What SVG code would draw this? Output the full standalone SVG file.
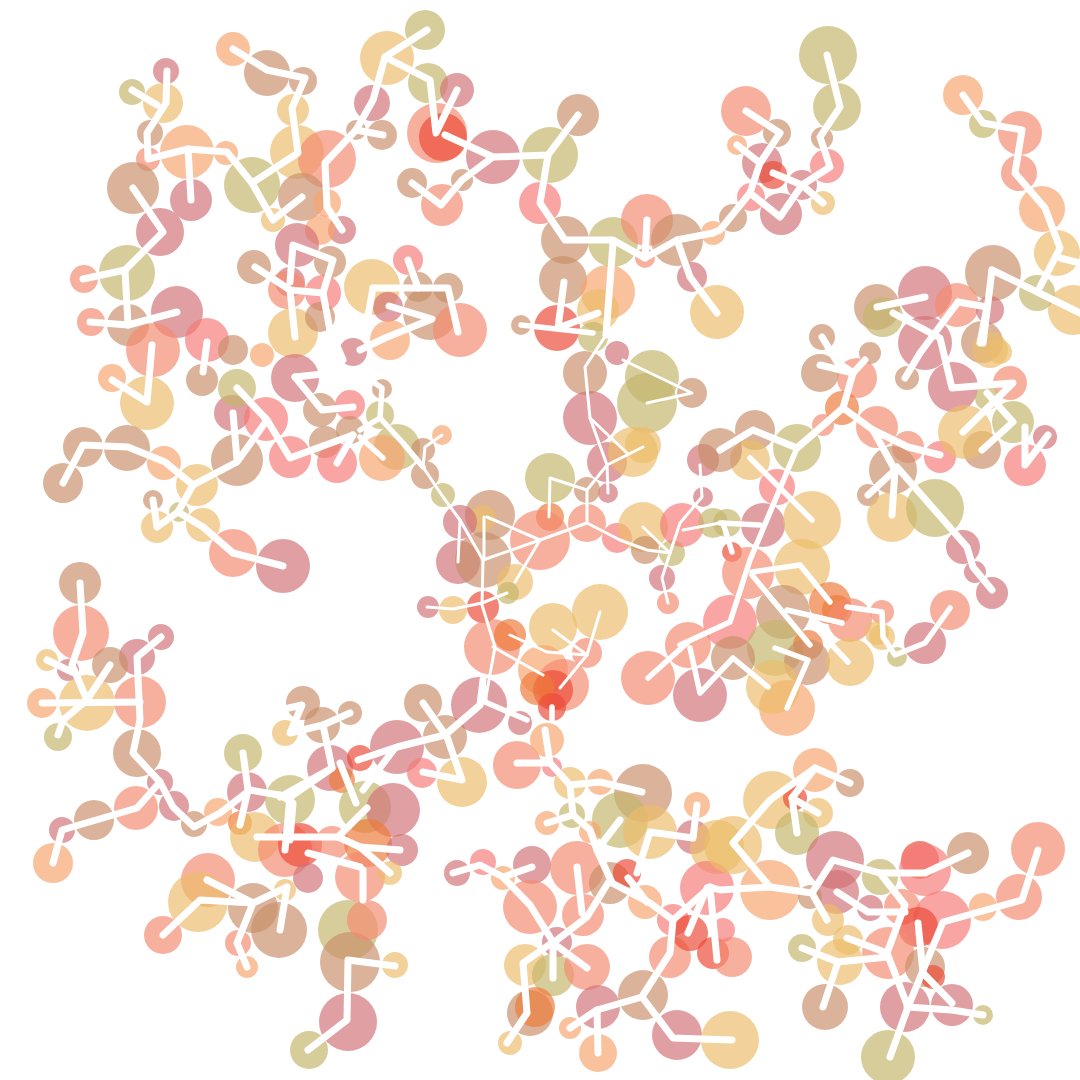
<svg xmlns="http://www.w3.org/2000/svg" width="1080" height="1080" viewBox="0 0 1080 1080">
<style>
circle{fill-opacity:0.68}
.s{fill:#F48A70}.r{fill:#D27276}.t{fill:#C98F6A}.o{fill:#C4B56C}.g{fill:#ECBC6A}.p{fill:#F7A36E}.k{fill:#F57A78}.d{fill:#EC4A36}.n{fill:#EE7A3A}
polyline{fill:none;stroke:#fff;stroke-linecap:round;stroke-linejoin:round}
.w7{stroke-width:7}.w5{stroke-width:5.5}.w3{stroke-width:3}
</style>
<rect width="1080" height="1080" fill="#fff"/>
<g id="circles">
<circle class="p" cx="233" cy="49" r="17"/><circle class="t" cx="267" cy="73" r="23"/><circle class="t" cx="303" cy="81" r="14"/><circle class="g" cx="293" cy="110" r="16"/><circle class="g" cx="163" cy="103" r="20"/><circle class="r" cx="166" cy="71" r="13"/><circle class="o" cx="132" cy="92" r="13"/><circle class="t" cx="150" cy="133" r="13"/><circle class="p" cx="187" cy="152" r="27"/><circle class="p" cx="226" cy="153" r="12"/><circle class="s" cx="148" cy="159" r="12"/><circle class="t" cx="133" cy="188" r="26"/><circle class="r" cx="191" cy="200" r="21"/><circle class="r" cx="160" cy="232" r="24"/><circle class="o" cx="252" cy="185" r="28"/><circle class="g" cx="297" cy="152" r="27"/><circle class="s" cx="327" cy="159" r="29"/><circle class="t" cx="302" cy="197" r="24"/><circle class="p" cx="327" cy="203" r="14"/><circle class="r" cx="342" cy="230" r="14"/><circle class="g" cx="273" cy="220" r="12"/><circle class="p" cx="320" cy="230" r="15"/><circle class="r" cx="297" cy="245" r="22"/><circle class="t" cx="254" cy="267" r="17"/><circle class="t" cx="330" cy="262" r="16"/><circle class="r" cx="290" cy="282" r="15"/><circle class="s" cx="287" cy="290" r="19"/><circle class="k" cx="323" cy="293" r="18"/><circle class="o" cx="127" cy="273" r="28"/><circle class="s" cx="84" cy="279" r="14"/><circle class="s" cx="91" cy="322" r="14"/><circle class="t" cx="128" cy="325" r="21"/><circle class="r" cx="177" cy="312" r="26"/><circle class="k" cx="207" cy="340" r="22"/><circle class="s" cx="153" cy="350" r="27"/><circle class="g" cx="293" cy="333" r="25"/><circle class="t" cx="320" cy="317" r="15"/><circle class="g" cx="372" cy="287" r="28"/><circle class="r" cx="372" cy="103" r="18"/><circle class="t" cx="356" cy="130" r="10"/><circle class="r" cx="353" cy="352" r="14"/><circle class="p" cx="262" cy="355" r="12"/><circle class="t" cx="233" cy="350" r="15"/>
<circle class="o" cx="425" cy="30" r="20"/><circle class="g" cx="387" cy="58" r="27"/><circle class="o" cx="428" cy="83" r="20"/><circle class="r" cx="457" cy="90" r="17"/><circle class="t" cx="382" cy="135" r="15"/><circle class="s" cx="437" cy="133" r="30"/><circle class="d" cx="443" cy="137" r="24"/><circle class="r" cx="493" cy="157" r="27"/><circle class="o" cx="550" cy="155" r="28"/><circle class="t" cx="578" cy="115" r="21"/><circle class="t" cx="412" cy="183" r="15"/><circle class="t" cx="462" cy="180" r="11"/><circle class="s" cx="442" cy="205" r="21"/><circle class="k" cx="540" cy="203" r="21"/><circle class="t" cx="565" cy="240" r="24"/><circle class="o" cx="613" cy="242" r="25"/><circle class="s" cx="647" cy="220" r="26"/><circle class="t" cx="677" cy="240" r="26"/><circle class="s" cx="645" cy="258" r="10"/><circle class="p" cx="713" cy="233" r="12"/><circle class="r" cx="692" cy="277" r="15"/><circle class="g" cx="717" cy="312" r="27"/><circle class="t" cx="563" cy="280" r="24"/><circle class="p" cx="608" cy="292" r="27"/><circle class="g" cx="598" cy="310" r="21"/><circle class="d" cx="557" cy="328" r="23"/><circle class="t" cx="521" cy="325" r="10"/><circle class="o" cx="593" cy="337" r="15"/><circle class="k" cx="408" cy="260" r="15"/><circle class="t" cx="418" cy="287" r="15"/><circle class="t" cx="448" cy="288" r="15"/><circle class="r" cx="388" cy="307" r="15"/><circle class="t" cx="430" cy="313" r="27"/><circle class="s" cx="460" cy="330" r="27"/><circle class="p" cx="390" cy="340" r="20"/><circle class="r" cx="617" cy="353" r="12"/>
<circle class="o" cx="828" cy="55" r="29"/><circle class="o" cx="837" cy="107" r="24"/><circle class="t" cx="822" cy="138" r="11"/><circle class="k" cx="827" cy="166" r="17"/><circle class="s" cx="746" cy="111" r="25"/><circle class="t" cx="777" cy="133" r="14"/><circle class="p" cx="737" cy="145" r="10"/><circle class="r" cx="762" cy="163" r="20"/><circle class="d" cx="773" cy="175" r="14"/><circle class="r" cx="802" cy="185" r="15"/><circle class="k" cx="751" cy="197" r="14"/><circle class="r" cx="781" cy="214" r="21"/><circle class="g" cx="823" cy="203" r="12"/><circle class="t" cx="733" cy="218" r="14"/><circle class="p" cx="963" cy="95" r="20"/><circle class="o" cx="983" cy="124" r="14"/><circle class="s" cx="1020" cy="133" r="22"/><circle class="s" cx="1019" cy="173" r="18"/><circle class="p" cx="1042" cy="209" r="23"/><circle class="g" cx="1057" cy="253" r="23"/><circle class="g" cx="1073" cy="310" r="25"/><circle class="t" cx="993" cy="273" r="28"/><circle class="o" cx="1037" cy="293" r="18"/><circle class="r" cx="925" cy="293" r="27"/><circle class="s" cx="957" cy="305" r="22"/><circle class="t" cx="877" cy="307" r="23"/><circle class="o" cx="883" cy="317" r="20"/><circle class="r" cx="925" cy="343" r="27"/><circle class="t" cx="982" cy="342" r="21"/><circle class="g" cx="990" cy="350" r="18"/><circle class="r" cx="990" cy="310" r="14"/><circle class="t" cx="822" cy="337" r="13"/><circle class="t" cx="870" cy="353" r="11"/><circle class="g" cx="1000" cy="352" r="12"/>
<circle class="p" cx="112" cy="378" r="14"/><circle class="g" cx="147" cy="403" r="27"/><circle class="t" cx="83" cy="447" r="20"/><circle class="t" cx="63" cy="483" r="20"/><circle class="t" cx="127" cy="448" r="23"/><circle class="p" cx="164" cy="463" r="17"/><circle class="g" cx="197" cy="485" r="21"/><circle class="t" cx="153" cy="500" r="10"/><circle class="o" cx="179" cy="512" r="10"/><circle class="g" cx="157" cy="527" r="16"/><circle class="g" cx="203" cy="525" r="17"/><circle class="s" cx="233" cy="553" r="24"/><circle class="r" cx="283" cy="566" r="27"/><circle class="t" cx="237" cy="460" r="26"/><circle class="r" cx="232" cy="413" r="18"/><circle class="k" cx="266" cy="419" r="22"/><circle class="o" cx="237" cy="388" r="19"/><circle class="t" cx="202" cy="380" r="16"/><circle class="k" cx="290" cy="457" r="21"/><circle class="r" cx="295" cy="378" r="24"/><circle class="t" cx="320" cy="410" r="17"/><circle class="k" cx="350" cy="405" r="15"/><circle class="t" cx="325" cy="442" r="16"/><circle class="k" cx="337" cy="463" r="20"/><circle class="t" cx="350" cy="430" r="14"/><circle class="t" cx="80" cy="583" r="21"/><circle class="s" cx="81" cy="633" r="28"/><circle class="r" cx="161" cy="637" r="13"/><circle class="r" cx="137" cy="657" r="18"/><circle class="t" cx="110" cy="665" r="18"/><circle class="g" cx="47" cy="660" r="11"/><circle class="r" cx="68" cy="670" r="11"/><circle class="s" cx="140" cy="702" r="26"/><circle class="g" cx="87" cy="703" r="28"/><circle class="p" cx="42" cy="703" r="15"/>
<circle class="o" cx="58" cy="737" r="14"/><circle class="t" cx="137" cy="753" r="24"/><circle class="r" cx="160" cy="782" r="13"/><circle class="s" cx="136" cy="808" r="22"/><circle class="t" cx="94" cy="820" r="20"/><circle class="r" cx="62" cy="830" r="13"/><circle class="p" cx="53" cy="863" r="20"/><circle class="r" cx="174" cy="806" r="15"/><circle class="t" cx="194" cy="824" r="13"/><circle class="p" cx="218" cy="812" r="14"/><circle class="o" cx="243" cy="753" r="19"/><circle class="r" cx="247" cy="792" r="20"/><circle class="n" cx="240" cy="823" r="12"/><circle class="g" cx="255" cy="837" r="25"/><circle class="o" cx="290" cy="800" r="25"/><circle class="t" cx="303" cy="703" r="17"/><circle class="t" cx="350" cy="713" r="12"/><circle class="t" cx="322" cy="725" r="18"/><circle class="g" cx="285" cy="733" r="13"/><circle class="r" cx="330" cy="768" r="23"/><circle class="n" cx="342" cy="780" r="13"/><circle class="d" cx="360" cy="758" r="13"/><circle class="o" cx="365" cy="807" r="26"/><circle class="r" cx="393" cy="810" r="27"/><circle class="s" cx="285" cy="850" r="27"/><circle class="d" cx="300" cy="845" r="22"/><circle class="s" cx="332" cy="843" r="17"/><circle class="r" cx="308" cy="878" r="15"/><circle class="n" cx="368" cy="843" r="24"/><circle class="s" cx="208" cy="880" r="27"/><circle class="g" cx="198" cy="902" r="30"/><circle class="s" cx="163" cy="935" r="19"/><circle class="t" cx="253" cy="908" r="25"/><circle class="t" cx="279" cy="930" r="28"/><circle class="g" cx="285" cy="890" r="11"/><circle class="s" cx="238" cy="943" r="13"/><circle class="p" cx="247" cy="967" r="11"/><circle class="o" cx="348" cy="930" r="30"/><circle class="t" cx="350" cy="962" r="30"/><circle class="r" cx="348" cy="1022" r="29"/><circle class="o" cx="309" cy="1050" r="19"/><circle class="s" cx="360" cy="877" r="25"/><circle class="g" cx="395" cy="965" r="13"/>
<circle class="r" cx="397" cy="747" r="27"/><circle class="t" cx="445" cy="737" r="22"/><circle class="t" cx="423" cy="703" r="19"/><circle class="r" cx="479" cy="705" r="28"/><circle class="g" cx="462" cy="782" r="25"/><circle class="k" cx="422" cy="773" r="15"/><circle class="s" cx="517" cy="765" r="24"/><circle class="p" cx="547" cy="740" r="17"/><circle class="r" cx="520" cy="723" r="12"/><circle class="k" cx="552" cy="767" r="10"/><circle class="g" cx="570" cy="783" r="16"/><circle class="p" cx="600" cy="782" r="13"/><circle class="t" cx="643" cy="793" r="29"/><circle class="o" cx="620" cy="820" r="28"/><circle class="g" cx="650" cy="832" r="27"/><circle class="o" cx="572" cy="815" r="13"/><circle class="p" cx="547" cy="823" r="12"/><circle class="p" cx="590" cy="832" r="11"/><circle class="p" cx="697" cy="805" r="13"/><circle class="r" cx="693" cy="837" r="17"/><circle class="g" cx="717" cy="847" r="27"/><circle class="r" cx="402" cy="850" r="16"/><circle class="g" cx="390" cy="873" r="12"/><circle class="s" cx="367" cy="920" r="20"/><circle class="r" cx="457" cy="873" r="13"/><circle class="k" cx="483" cy="862" r="13"/><circle class="p" cx="503" cy="878" r="12"/><circle class="r" cx="532" cy="865" r="19"/><circle class="s" cx="530" cy="907" r="27"/><circle class="s" cx="577" cy="868" r="27"/><circle class="t" cx="610" cy="883" r="21"/><circle class="d" cx="627" cy="873" r="14"/><circle class="s" cx="583" cy="915" r="21"/><circle class="r" cx="557" cy="942" r="15"/><circle class="g" cx="525" cy="965" r="21"/><circle class="o" cx="553" cy="975" r="21"/><circle class="s" cx="587" cy="967" r="23"/><circle class="t" cx="530" cy="1013" r="23"/><circle class="n" cx="535" cy="1007" r="20"/><circle class="g" cx="510" cy="1043" r="12"/><circle class="p" cx="645" cy="902" r="17"/><circle class="r" cx="598" cy="1007" r="22"/><circle class="p" cx="570" cy="1028" r="11"/><circle class="p" cx="598" cy="1053" r="19"/><circle class="t" cx="643" cy="995" r="25"/><circle class="r" cx="677" cy="1035" r="25"/><circle class="s" cx="670" cy="957" r="21"/><circle class="k" cx="673" cy="920" r="16"/><circle class="k" cx="707" cy="888" r="27"/><circle class="d" cx="690" cy="933" r="18"/><circle class="d" cx="713" cy="953" r="16"/>
<circle class="p" cx="787" cy="708" r="28"/><circle class="p" cx="815" cy="770" r="22"/><circle class="t" cx="850" cy="783" r="14"/><circle class="g" cx="772" cy="800" r="29"/><circle class="d" cx="795" cy="798" r="12"/><circle class="g" cx="818" cy="813" r="15"/><circle class="o" cx="797" cy="833" r="22"/><circle class="g" cx="733" cy="845" r="29"/><circle class="p" cx="770" cy="890" r="30"/><circle class="r" cx="835" cy="860" r="29"/><circle class="o" cx="880" cy="877" r="18"/><circle class="d" cx="920" cy="860" r="19"/><circle class="k" cx="925" cy="870" r="26"/><circle class="t" cx="968" cy="853" r="21"/><circle class="r" cx="837" cy="892" r="22"/><circle class="t" cx="810" cy="897" r="12"/><circle class="r" cx="870" cy="908" r="13"/><circle class="s" cx="902" cy="907" r="18"/><circle class="k" cx="942" cy="920" r="29"/><circle class="d" cx="918" cy="927" r="20"/><circle class="p" cx="983" cy="907" r="14"/><circle class="s" cx="1019" cy="897" r="23"/><circle class="s" cx="1038" cy="849" r="27"/><circle class="g" cx="828" cy="920" r="16"/><circle class="g" cx="848" cy="940" r="15"/><circle class="o" cx="802" cy="948" r="14"/><circle class="g" cx="840" cy="962" r="23"/><circle class="s" cx="888" cy="953" r="26"/><circle class="t" cx="925" cy="967" r="20"/><circle class="d" cx="933" cy="977" r="12"/><circle class="r" cx="905" cy="1007" r="25"/><circle class="r" cx="952" cy="1005" r="21"/><circle class="o" cx="983" cy="1015" r="10"/><circle class="t" cx="825" cy="1007" r="23"/><circle class="o" cx="888" cy="1057" r="27"/><circle class="g" cx="730" cy="1040" r="29"/><circle class="s" cx="732" cy="957" r="20"/><circle class="k" cx="723" cy="930" r="12"/>
<circle class="t" cx="585" cy="373" r="22"/><circle class="o" cx="652" cy="377" r="27"/><circle class="o" cx="647" cy="403" r="30"/><circle class="t" cx="692" cy="393" r="15"/><circle class="r" cx="590" cy="418" r="27"/><circle class="r" cx="607" cy="462" r="20"/><circle class="g" cx="633" cy="452" r="25"/><circle class="g" cx="643" cy="445" r="18"/><circle class="r" cx="608" cy="493" r="10"/><circle class="t" cx="587" cy="490" r="13"/><circle class="o" cx="550" cy="478" r="25"/><circle class="n" cx="550" cy="517" r="14"/><circle class="s" cx="587" cy="523" r="19"/><circle class="s" cx="540" cy="540" r="30"/><circle class="t" cx="490" cy="515" r="25"/><circle class="g" cx="483" cy="518" r="13"/><circle class="r" cx="460" cy="522" r="17"/><circle class="r" cx="458" cy="562" r="22"/><circle class="t" cx="483" cy="560" r="28"/><circle class="g" cx="515" cy="582" r="18"/><circle class="o" cx="508" cy="593" r="11"/><circle class="d" cx="483" cy="607" r="16"/><circle class="r" cx="428" cy="607" r="11"/><circle class="g" cx="453" cy="610" r="14"/><circle class="o" cx="397" cy="447" r="23"/><circle class="p" cx="382" cy="458" r="23"/><circle class="p" cx="442" cy="435" r="10"/><circle class="t" cx="423" cy="450" r="12"/><circle class="t" cx="425" cy="475" r="14"/><circle class="o" cx="443" cy="495" r="12"/><circle class="o" cx="380" cy="415" r="14"/><circle class="t" cx="382" cy="389" r="10"/><circle class="k" cx="617" cy="538" r="15"/><circle class="g" cx="643" cy="527" r="25"/><circle class="t" cx="645" cy="550" r="14"/><circle class="o" cx="672" cy="553" r="13"/><circle class="k" cx="682" cy="525" r="22"/><circle class="o" cx="713" cy="523" r="15"/><circle class="r" cx="703" cy="497" r="10"/><circle class="r" cx="703" cy="460" r="16"/><circle class="r" cx="662" cy="578" r="13"/><circle class="s" cx="668" cy="603" r="11"/><circle class="g" cx="600" cy="612" r="28"/><circle class="g" cx="553" cy="627" r="24"/><circle class="s" cx="587" cy="653" r="15"/><circle class="s" cx="492" cy="647" r="28"/><circle class="n" cx="510" cy="635" r="16"/><circle class="p" cx="543" cy="670" r="25"/><circle class="s" cx="563" cy="685" r="26"/><circle class="d" cx="553" cy="690" r="20"/><circle class="n" cx="537" cy="688" r="17"/><circle class="d" cx="552" cy="707" r="14"/><circle class="s" cx="688" cy="645" r="23"/><circle class="s" cx="648" cy="678" r="27"/><circle class="r" cx="700" cy="695" r="27"/>
<circle class="t" cx="820" cy="373" r="19"/><circle class="s" cx="857" cy="378" r="20"/><circle class="n" cx="842" cy="408" r="17"/><circle class="s" cx="823" cy="425" r="11"/><circle class="s" cx="877" cy="427" r="21"/><circle class="s" cx="908" cy="447" r="16"/><circle class="k" cx="940" cy="457" r="16"/><circle class="t" cx="893" cy="470" r="24"/><circle class="t" cx="868" cy="495" r="11"/><circle class="g" cx="892" cy="517" r="25"/><circle class="o" cx="935" cy="508" r="29"/><circle class="r" cx="963" cy="547" r="17"/><circle class="r" cx="975" cy="572" r="11"/><circle class="r" cx="992" cy="593" r="16"/><circle class="s" cx="950" cy="610" r="20"/><circle class="r" cx="925" cy="643" r="21"/><circle class="o" cx="897" cy="657" r="10"/><circle class="g" cx="882" cy="637" r="13"/><circle class="s" cx="882" cy="612" r="12"/><circle class="r" cx="953" cy="387" r="25"/><circle class="s" cx="1010" cy="383" r="17"/><circle class="o" cx="987" cy="398" r="12"/><circle class="o" cx="1013" cy="422" r="21"/><circle class="r" cx="1045" cy="437" r="12"/><circle class="k" cx="1025" cy="465" r="21"/><circle class="t" cx="982" cy="450" r="19"/><circle class="g" cx="965" cy="432" r="27"/><circle class="t" cx="907" cy="378" r="12"/><circle class="t" cx="755" cy="430" r="20"/><circle class="o" cx="797" cy="448" r="24"/><circle class="g" cx="750" cy="460" r="20"/><circle class="t" cx="720" cy="450" r="22"/><circle class="k" cx="777" cy="487" r="18"/><circle class="r" cx="763" cy="525" r="22"/><circle class="g" cx="812" cy="520" r="29"/><circle class="o" cx="727" cy="523" r="14"/><circle class="d" cx="732" cy="552" r="10"/><circle class="s" cx="748" cy="573" r="26"/><circle class="g" cx="802" cy="567" r="28"/><circle class="k" cx="730" cy="622" r="27"/><circle class="t" cx="783" cy="612" r="27"/><circle class="n" cx="830" cy="603" r="21"/><circle class="n" cx="837" cy="610" r="15"/><circle class="s" cx="850" cy="620" r="22"/><circle class="o" cx="775" cy="648" r="28"/><circle class="n" cx="808" cy="645" r="15"/><circle class="t" cx="807" cy="662" r="23"/><circle class="g" cx="850" cy="662" r="24"/><circle class="t" cx="733" cy="658" r="22"/><circle class="g" cx="773" cy="687" r="27"/><circle class="g" cx="877" cy="633" r="12"/>
</g>
<g id="connectors">
<polyline class="w7" points="233,49 267,70 305,78 292,108 298,153 252,183 273,220 302,197"/>
<polyline class="w7" points="252,183 227,152 188,149 148,159 147,133 166,103 167,71"/>
<polyline class="w7" points="188,149 191,200"/>
<polyline class="w7" points="157,105 132,90"/>
<polyline class="w7" points="133,188 163,232 125,270 83,279"/>
<polyline class="w7" points="125,270 128,325 177,312"/>
<polyline class="w7" points="128,325 90,322"/>
<polyline class="w7" points="342,230 327,207 325,163 356,130 373,100 385,57 427,30"/>
<polyline class="w7" points="356,130 383,135"/>
<polyline class="w7" points="385,57 430,80 436,133 457,90"/>
<polyline class="w7" points="255,267 290,290 323,293 333,260 293,245 290,282"/>
<polyline class="w7" points="290,290 295,337"/>
<polyline class="w7" points="323,293 330,330 357,323"/>
<polyline class="w7" points="330,330 343,360"/>
<polyline class="w7" points="152,345 147,402 112,380"/>
<polyline class="w7" points="207,342 203,372"/>
<polyline class="w7" points="63,483 83,445 128,447 165,462 193,485 237,462 267,420 290,458 353,435"/>
<polyline class="w7" points="267,420 237,388"/>
<polyline class="w7" points="233,413 237,460"/>
<polyline class="w7" points="193,485 178,512 157,527 153,500"/>
<polyline class="w7" points="178,512 203,527 233,553 283,566"/>
<polyline class="w7" points="295,377 322,410 353,407"/>
<polyline class="w7" points="295,377 360,370"/>
<polyline class="w7" points="353,435 337,463"/>
<polyline class="w7" points="80,583 83,633 72,665 87,700 110,665"/>
<polyline class="w7" points="47,660 72,672"/>
<polyline class="w7" points="161,637 137,657 140,720 133,753 160,782 137,808 62,830 53,863"/>
<polyline class="w7" points="42,703 140,702"/>
<polyline class="w7" points="87,700 63,720 58,735"/>
<polyline class="w7" points="160,782 173,807 194,827 220,813 250,790 290,797 332,768 323,725 350,713"/>
<polyline class="w7" points="280,710 302,705 290,733 323,725"/>
<polyline class="w7" points="332,768 280,797"/>
<polyline class="w7" points="340,763 356,803"/>
<polyline class="w7" points="280,795 293,803 290,840"/>
<polyline class="w7" points="243,753 248,790 240,825"/>
<polyline class="w7" points="290,797 285,850"/>
<polyline class="w7" points="257,837 338,837"/>
<polyline class="w7" points="367,808 338,837 360,847 390,873"/>
<polyline class="w7" points="360,847 400,850"/>
<polyline class="w7" points="308,853 360,867"/>
<polyline class="w7" points="363,870 363,900"/>
<polyline class="w7" points="163,935 200,900 253,903 287,887 280,930"/>
<polyline class="w7" points="207,880 253,903 237,943 247,967"/>
<polyline class="w7" points="308,1050 347,1020 348,960 395,966"/>
<polyline class="w7" points="358,760 397,747 445,735 480,705 483,680"/>
<polyline class="w7" points="395,748 363,790"/>
<polyline class="w7" points="423,703 447,737 462,780 423,772"/>
<polyline class="w7" points="517,763 550,763 545,730"/>
<polyline class="w7" points="550,763 570,785 600,782 642,792"/>
<polyline class="w7" points="570,785 573,815 547,823"/>
<polyline class="w7" points="573,815 590,830 597,850 620,820"/>
<polyline class="w7" points="597,850 612,883 650,903 673,920 710,887 720,890 770,887 733,843 770,800 815,768 850,783"/>
<polyline class="w7" points="608,883 587,917 553,943 587,968"/>
<polyline class="w7" points="577,867 582,913"/>
<polyline class="w7" points="453,873 480,865 503,877 532,867"/>
<polyline class="w7" points="503,877 530,905 553,942 553,978"/>
<polyline class="w7" points="553,942 523,963 527,1013 507,1043"/>
<polyline class="w7" points="628,878 647,902"/>
<polyline class="w7" points="697,805 693,838 650,832 637,873"/>
<polyline class="w7" points="570,1028 597,1010 642,997 673,1038 732,1040"/>
<polyline class="w7" points="597,1010 598,1053"/>
<polyline class="w7" points="673,920 670,953 643,995"/>
<polyline class="w7" points="707,888 688,933"/>
<polyline class="w7" points="710,887 717,960"/>
<polyline class="w7" points="815,768 792,798 797,833"/>
<polyline class="w7" points="792,798 818,813"/>
<polyline class="w7" points="770,887 812,893 827,920"/>
<polyline class="w7" points="812,893 833,860 880,873 925,873 968,853"/>
<polyline class="w7" points="880,873 905,905 887,953 908,1007 890,1057"/>
<polyline class="w7" points="837,892 868,912 905,912"/>
<polyline class="w7" points="847,938 887,953"/>
<polyline class="w7" points="802,948 838,962 887,957"/>
<polyline class="w7" points="838,962 823,1007"/>
<polyline class="w7" points="907,1007 952,1010 983,1015"/>
<polyline class="w7" points="908,1007 943,922 1022,900 1038,850"/>
<polyline class="w7" points="918,923 923,973 952,1003"/>
<polyline class="w7" points="827,55 840,107 820,137 830,167 802,185 780,217 750,193 720,230 713,233"/>
<polyline class="w7" points="746,111 780,133 760,163 750,193"/>
<polyline class="w7" points="737,145 760,163"/>
<polyline class="w7" points="773,173 802,185 823,203"/>
<polyline class="w7" points="963,95 983,123 1022,130 1015,173 1045,208 1060,248 1040,287"/>
<polyline class="w7" points="1060,258 1080,263"/>
<polyline class="w7" points="992,270 1080,313"/>
<polyline class="w7" points="992,270 983,343"/>
<polyline class="w7" points="877,307 925,297"/>
<polyline class="w7" points="893,313 940,338 952,388 1013,383 963,432"/>
<polyline class="w7" points="958,302 987,307 980,343"/>
<polyline class="w7" points="958,302 920,353 905,378"/>
<polyline class="w7" points="822,337 837,362 853,373"/>
<polyline class="w7" points="445,135 493,157 548,155 578,115"/>
<polyline class="w7" points="493,157 462,180 441,205 412,183"/>
<polyline class="w7" points="548,155 540,203 565,240 613,240 645,258 677,240 713,233"/>
<polyline class="w7" points="613,243 606,335"/>
<polyline class="w7" points="647,220 645,258"/>
<polyline class="w7" points="677,240 690,277 717,313"/>
<polyline class="w7" points="564,282 558,328 598,313"/>
<polyline class="w5" points="521,325 593,333"/>
<polyline class="w7" points="408,260 418,288"/>
<polyline class="w7" points="373,288 448,288 458,332"/>
<polyline class="w7" points="389,306 432,319 385,338 360,350"/>
<polyline class="w7" points="373,288 365,333"/>
<polyline class="w7" points="820,365 853,373 865,360"/>
<polyline class="w7" points="853,373 843,408 873,430 908,447 940,455"/>
<polyline class="w7" points="843,408 827,422 797,448 753,430 720,450"/>
<polyline class="w7" points="873,430 895,470 892,515"/>
<polyline class="w7" points="895,470 868,495"/>
<polyline class="w7" points="897,467 932,507 967,547 973,567 992,590"/>
<polyline class="w7" points="987,393 1013,422 982,450"/>
<polyline class="w7" points="1025,427 1025,465 1048,435"/>
<polyline class="w5" points="797,448 750,560 730,622 680,645"/>
<polyline class="w5" points="750,458 812,520"/>
<polyline class="w5" points="720,523 760,525"/>
<polyline class="w5" points="723,523 732,552"/>
<polyline class="w5" points="752,572 800,565 830,602"/>
<polyline class="w5" points="752,575 810,645"/>
<polyline class="w5" points="787,610 842,623"/>
<polyline class="w5" points="847,607 882,612 883,637 895,655 925,643 950,608"/>
<polyline class="w5" points="820,632 848,662"/>
<polyline class="w5" points="775,648 808,660 787,708"/>
<polyline class="w5" points="690,648 700,693 733,658 768,687"/>
<polyline class="w5" points="648,678 687,643"/>
<polyline class="w5" points="360,373 382,388 380,418 360,430"/>
<polyline class="w5" points="380,418 403,443 423,467"/>
<polyline class="w3" points="423,467 443,497 460,520 483,560 482,605 495,647 485,702"/>
<polyline class="w5" points="383,458 360,437"/>
<polyline class="w3" points="423,467 425,447 442,435"/>
<polyline class="w3" points="460,520 458,562"/>
<polyline class="w3" points="484,517 484,560"/>
<polyline class="w3" points="487,517 540,540 483,560"/>
<polyline class="w3" points="540,540 515,582"/>
<polyline class="w3" points="540,540 587,523 587,490 550,478 549,517"/>
<polyline class="w3" points="587,490 607,465 643,447"/>
<polyline class="w3" points="607,465 608,493"/>
<polyline class="w3" points="607,465 590,418 585,367 606,335"/>
<polyline class="w3" points="590,418 627,453"/>
<polyline class="w3" points="647,403 692,393 623,360"/>
<polyline class="w3" points="587,523 620,540 647,550 670,553 662,578 668,603"/>
<polyline class="w3" points="670,553 643,527"/>
<polyline class="w3" points="670,553 680,523 702,497 700,465"/>
<polyline class="w3" points="683,530 720,523"/>
<polyline class="w3" points="427,607 453,609 482,603 507,593"/>
<polyline class="w3" points="493,647 543,675"/>
<polyline class="w3" points="510,635 547,652 587,655 553,630"/>
<polyline class="w3" points="587,655 600,612"/>
<polyline class="w3" points="587,655 560,688"/>
<polyline class="w5" points="485,702 483,680"/>
<polyline class="w5" points="485,702 527,720"/>
<polyline class="w5" points="552,707 552,720"/>
</g>
</svg>
